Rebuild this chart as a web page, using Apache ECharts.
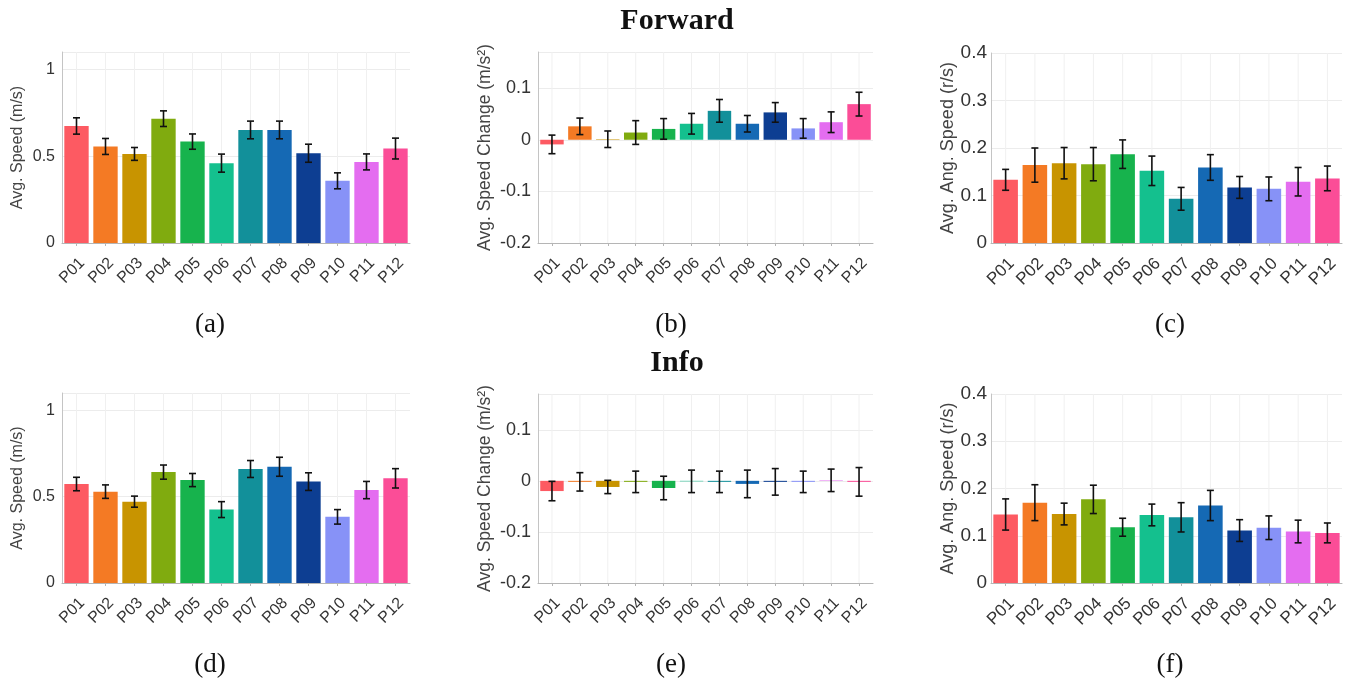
<!DOCTYPE html>
<html>
<head>
<meta charset="utf-8">
<script src="https://cdn.jsdelivr.net/npm/echarts@6/dist/echarts.min.js"></script>
<style>
html,body{margin:0;padding:0;background:#fff;}
#chart{width:1355px;height:692px;}
</style>
</head>
<body>
<div id="chart"></div>
<script>
const categories = ['P01','P02','P03','P04','P05','P06','P07','P08','P09','P10','P11','P12'];
const barColors = ['#fd5a62','#f47a24','#c89400','#80ab0f','#17b34d','#14c08e','#12909a','#1569b4','#0d3e92','#8792f7','#e46df0','#fb4d97'];

const fwdSpeed = [0.674,0.556,0.513,0.716,0.584,0.460,0.651,0.651,0.517,0.358,0.467,0.544];
const fwdSpeedErr = [0.047,0.046,0.037,0.045,0.044,0.052,0.051,0.051,0.052,0.046,0.046,0.060];
const fwdChange = [-0.009,0.026,0.001,0.014,0.021,0.031,0.056,0.031,0.053,0.022,0.034,0.069];
const fwdChangeErr = [0.018,0.016,0.016,0.023,0.020,0.020,0.022,0.016,0.019,0.019,0.020,0.023];
const fwdAng = [0.133,0.164,0.168,0.166,0.187,0.152,0.093,0.159,0.117,0.114,0.129,0.136];
const fwdAngErr = [0.022,0.036,0.033,0.035,0.030,0.031,0.024,0.027,0.023,0.025,0.030,0.026];

const infoSpeed = [0.573,0.529,0.471,0.642,0.596,0.425,0.660,0.673,0.587,0.383,0.538,0.606];
const infoSpeedErr = [0.039,0.039,0.032,0.041,0.038,0.046,0.049,0.055,0.051,0.042,0.050,0.056];
const infoChange = [-0.020,-0.002,-0.012,-0.002,-0.014,-0.001,-0.002,-0.006,-0.002,-0.002,0.001,-0.002];
const infoChangeErr = [0.019,0.018,0.013,0.021,0.023,0.022,0.021,0.027,0.026,0.021,0.022,0.028];
const infoAng = [0.145,0.170,0.146,0.177,0.118,0.144,0.139,0.164,0.111,0.117,0.109,0.106];
const infoAngErr = [0.033,0.038,0.023,0.030,0.019,0.023,0.031,0.032,0.023,0.025,0.024,0.021];

const speedTicks = {min:0, max:1.1, interval:0.5};
const changeTicks = {min:-0.2, max:0.17, interval:0.1};
const angTicks = {min:0, max:0.4, interval:0.1};

const panels = [
  {grid:{left:62, top:52, width:348, height:191}, vals:fwdSpeed, errs:fwdSpeedErr, ax:speedTicks, name:'Avg. Speed (m/s)', nameSize:16, gap:36, tickSize:16, tickMargin:7, xSize:16, cap:'(a)', capX:210, capY:325},
  {grid:{left:538, top:52, width:335, height:191}, vals:fwdChange, errs:fwdChangeErr, ax:changeTicks, name:'Avg. Speed Change (m/s²)', nameSize:17.5, gap:44, tickSize:18, tickMargin:7, xSize:16, cap:'(b)', capX:671, capY:325},
  {grid:{left:991, top:53, width:351, height:190}, vals:fwdAng, errs:fwdAngErr, ax:angTicks, name:'Avg. Ang. Speed (r/s)', nameSize:18, gap:34, tickSize:19, tickMargin:4, xSize:17, cap:'(c)', capX:1170, capY:325},
  {grid:{left:62, top:393, width:348, height:190}, vals:infoSpeed, errs:infoSpeedErr, ax:speedTicks, name:'Avg. Speed (m/s)', nameSize:16, gap:36, tickSize:16, tickMargin:7, xSize:16, cap:'(d)', capX:210, capY:665},
  {grid:{left:538, top:394, width:335, height:189}, vals:infoChange, errs:infoChangeErr, ax:changeTicks, name:'Avg. Speed Change (m/s²)', nameSize:17.5, gap:44, tickSize:18, tickMargin:7, xSize:16, cap:'(e)', capX:671, capY:665},
  {grid:{left:991, top:394, width:351, height:189}, vals:infoAng, errs:infoAngErr, ax:angTicks, name:'Avg. Ang. Speed (r/s)', nameSize:18, gap:34, tickSize:19, tickMargin:4, xSize:17, cap:'(f)', capX:1170, capY:665}
];

const grids = [], xAxes = [], yAxes = [], series = [], graphics = [];
const sans = 'Liberation Sans, Arial, sans-serif';
const serif = 'Liberation Serif, Times New Roman, serif';

panels.forEach((p, i) => {
  grids.push(Object.assign({outerBoundsMode:'none', containLabel:false}, p.grid));
  xAxes.push({
    type:'category', gridIndex:i, data:categories,
    axisLine:{onZero:false, lineStyle:{color:'#b5b5b5', width:1}},
    axisTick:{show:true, alignWithLabel:true, length:3, lineStyle:{color:'#b5b5b5'}},
    axisLabel:{rotate:45, fontSize:p.xSize, color:'#333', fontFamily:sans, margin:12, interval:0, verticalAlign:'top', align:'right'},
    splitLine:{show:false}
  });
  const iv = p.ax.interval;
  yAxes.push({
    type:'value', gridIndex:i, min:p.ax.min, max:p.ax.max, interval:iv,
    name:p.name, nameLocation:'middle', nameGap:p.gap,
    nameTextStyle:{fontSize:p.nameSize, color:'#444', fontFamily:sans},
    axisLine:{show:true, lineStyle:{color:'#c4c4c4', width:1}},
    axisTick:{show:false},
    axisLabel:{fontSize:p.tickSize, color:'#333', fontFamily:sans, margin:p.tickMargin,
      formatter: v => {
        const r = v / iv;
        if (Math.abs(r - Math.round(r)) > 1e-6) return '';
        return String(Math.round(v*1000)/1000);
      }},
    splitLine:{show:true, lineStyle:{color:'#ececec', width:1}}
  });
  const items = categories.map((c, k) => [k, p.vals[k], p.errs[k]]);
  series.push({
    type:'custom', xAxisIndex:i, yAxisIndex:i, z:1, silent:true,
    data: items,
    renderItem:(params, api) => {
      const cs = params.coordSys;
      const x = api.coord([api.value(0), 0])[0];
      return {type:'line', shape:{x1:x, y1:cs.y, x2:x, y2:cs.y+cs.height},
        style:{stroke:'#f0f0f0', lineWidth:1}};
    }
  });
  series.push({
    type:'bar', xAxisIndex:i, yAxisIndex:i, z:2,
    data: p.vals.map((v, k) => ({value:v, itemStyle:{color:barColors[k]}})),
    barWidth:'84%'
  });
  series.push({
    type:'custom', xAxisIndex:i, yAxisIndex:i, z:5, silent:true,
    data: items,
    renderItem:(params, api) => {
      const idx = api.value(0), v = api.value(1), e = api.value(2);
      const top = api.coord([idx, v + e]);
      const bot = api.coord([idx, v - e]);
      const hw = 3.5;
      const st = {stroke:'#111', lineWidth:1.6};
      return {type:'group', children:[
        {type:'line', shape:{x1:top[0], y1:top[1], x2:bot[0], y2:bot[1]}, style:st},
        {type:'line', shape:{x1:top[0]-hw, y1:top[1], x2:top[0]+hw, y2:top[1]}, style:st},
        {type:'line', shape:{x1:bot[0]-hw, y1:bot[1], x2:bot[0]+hw, y2:bot[1]}, style:st}
      ]};
    }
  });
  graphics.push({type:'text', x:p.capX, y:p.capY, style:{text:p.cap, font:'27px ' + serif, fill:'#111', align:'center', verticalAlign:'middle'}});
});

graphics.push({type:'text', x:677, y:21, style:{text:'Forward', font:'bold 30px ' + serif, fill:'#111', align:'center', verticalAlign:'middle'}});
graphics.push({type:'text', x:677, y:363, style:{text:'Info', font:'bold 30px ' + serif, fill:'#111', align:'center', verticalAlign:'middle'}});

const chart = echarts.init(document.getElementById('chart'), null, {renderer:'canvas'});
chart.setOption({
  animation:false,
  backgroundColor:'#fff',
  grid:grids, xAxis:xAxes, yAxis:yAxes, series:series, graphic:graphics
});
</script>
</body>
</html>
